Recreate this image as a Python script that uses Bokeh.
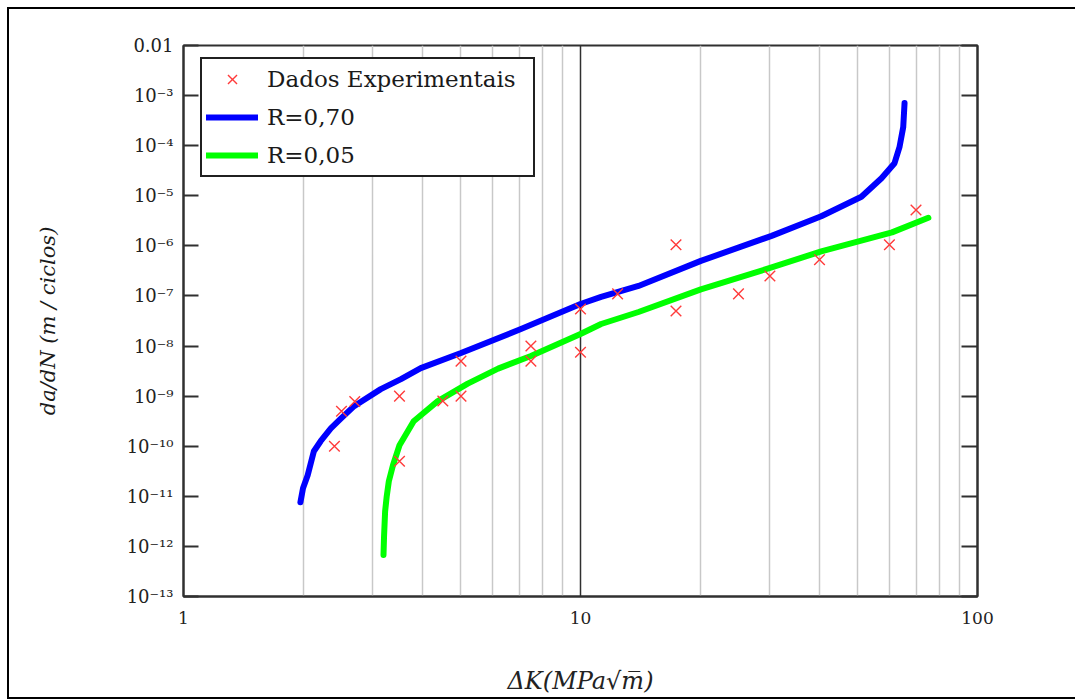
from bokeh.plotting import figure
from bokeh.models import (LogAxis, FixedTicker, CustomJSTickFormatter, Legend,
                          LegendItem, Range1d)
from bokeh.embed import file_html
from bokeh.resources import INLINE

# ---------------- data ----------------
delta_k_exp = [2.4, 2.5, 2.7, 3.5, 3.5, 4.5, 5.0, 5.0, 7.5, 7.5,
               10.0, 10.0, 12.4, 17.4, 17.4, 25.0, 30.0, 40.0, 60.0, 70.0]
dadn_exp = [1.0e-10, 5.0e-10, 7.8e-10, 1.0e-9, 5.0e-11, 8.0e-10, 1.0e-9, 5.0e-9, 1.0e-8, 5.0e-9,
            7.5e-9, 5.5e-8, 1.1e-7, 1.05e-6, 5.0e-8, 1.1e-7, 2.5e-7, 5.3e-7, 1.05e-6, 5.2e-6]

delta_k_r070 = [1.97, 2.0, 2.055, 2.13, 2.215, 2.35, 2.49, 2.69, 2.8, 3.14, 3.53, 3.96,
                5.0, 7.08, 10.0, 11.27, 14.0, 20.1, 30.3, 40.4, 51.0, 57.3, 61.8, 63.6, 65.0, 65.5]
log_dadn_r070 = [-11.12, -10.84, -10.58, -10.1, -9.9, -9.645, -9.45, -9.2, -9.11, -8.86, -8.66, -8.44,
                 -8.14, -7.66, -7.16, -7.02, -6.8, -6.3, -5.8, -5.41, -5.02, -4.65, -4.35, -4.03, -3.63, -3.15]

delta_k_r005 = [3.19, 3.2, 3.22, 3.25, 3.29, 3.37, 3.5, 3.8, 4.37, 5.2, 6.2, 7.5,
                10.0, 11.27, 14.0, 20.1, 30.3, 40.4, 60.9, 75.2]
log_dadn_r005 = [-12.17, -11.8, -11.3, -11.0, -10.7, -10.38, -9.98, -9.5, -9.1, -8.75, -8.45, -8.2,
                 -7.76, -7.56, -7.32, -6.87, -6.43, -6.11, -5.73, -5.44]

dadn_r070 = [10.0 ** v for v in log_dadn_r070]
dadn_r005 = [10.0 ** v for v in log_dadn_r005]

x_ticks = [1, 10, 100]
x_tick_labels = ["1", "10", "100"]
x_minor_ticks = [2, 3, 4, 5, 6, 7, 8, 9, 20, 30, 40, 50, 60, 70, 80, 90]
y_exps = [-13, -12, -11, -10, -9, -8, -7, -6, -5, -4, -3, -2]
y_tick_labels = ["10⁻¹³", "10⁻¹²", "10⁻¹¹", "10⁻¹⁰", "10⁻⁹", "10⁻⁸",
                 "10⁻⁷", "10⁻⁶", "10⁻⁵", "10⁻⁴", "10⁻³", "0.01"]
legend_labels = ["Dados Experimentais", "R=0,70", "R=0,05"]
x_title = "ΔK(MPa√m̅)"
y_title = "da/dN (m / ciclos)"

FONT = "DejaVu Serif"
AX = "#303030"
OFF = 9            # canvas offset inside the page (room for the outer frame line)
W, H = 1066, 688

# ---------------- figure ----------------
p = figure(width=W, height=H, x_axis_type="log", y_axis_type="log",
           x_range=Range1d(1, 100), y_range=Range1d(1e-13, 1e-2),
           output_backend="svg", toolbar_location=None,
           min_border_left=183 - OFF, min_border_right=W - (977 - OFF),
           min_border_top=45 - OFF, min_border_bottom=H - (599 - OFF),
           background_fill_color="white", border_fill_color="white")
p.styles = {"margin-left": f"{OFF}px", "margin-top": f"{OFF}px",
            "min-width": f"{W}px", "box-sizing": "content-box",
            "outline": "2px solid #000000"}
p.outline_line_color = AX
p.outline_line_width = 2

# x axis
xax = p.xaxis[0]
xax.ticker = FixedTicker(ticks=x_ticks, minor_ticks=x_minor_ticks)
xax.formatter = CustomJSTickFormatter(args=dict(xt=x_ticks, xl=x_tick_labels), code="""
const i = xt.findIndex(t => Math.abs(Math.log10(t) - Math.log10(tick)) < 1e-6);
return i >= 0 ? xl[i] : "";
""")
xax.major_tick_in = 0
xax.major_tick_out = 0
xax.minor_tick_in = 0
xax.minor_tick_out = 0
xax.axis_line_color = AX
xax.axis_line_width = 2
xax.major_label_text_font = FONT
xax.major_label_text_font_size = "17px"
xax.major_label_text_color = "#222222"
xax.major_label_standoff = 15
xax.axis_label = x_title
xax.axis_label_text_font = FONT
xax.axis_label_text_font_style = "italic"
xax.axis_label_text_font_size = "24px"
xax.axis_label_text_color = "#222222"
xax.axis_label_standoff = 40

p.xgrid.grid_line_color = AX
p.xgrid.grid_line_width = 1.5
p.xgrid.minor_grid_line_color = "#c8c8c8"
p.xgrid.minor_grid_line_width = 1.5
p.ygrid.visible = False

# y axes
y_ticker = FixedTicker(ticks=[10.0 ** e for e in y_exps], minor_ticks=[])
yax = p.yaxis[0]
yax.ticker = y_ticker
yax.formatter = CustomJSTickFormatter(args=dict(ye=y_exps, yl=y_tick_labels), code="""
const e = Math.round(Math.log10(tick));
const i = ye.indexOf(e);
return i >= 0 ? yl[i] : "";
""")
yax.major_tick_in = 15
yax.major_tick_out = 0
yax.major_tick_line_width = 2
yax.major_tick_line_color = AX
yax.minor_tick_in = 0
yax.minor_tick_out = 0
yax.axis_line_color = AX
yax.axis_line_width = 2
yax.major_label_text_font = FONT
yax.major_label_text_font_size = "18px"
yax.major_label_text_color = "#222222"
yax.major_label_standoff = 10
yax.axis_label = y_title
yax.axis_label_text_font = FONT
yax.axis_label_text_font_style = "italic"
yax.axis_label_text_font_size = "21px"
yax.axis_label_text_color = "#1a1a1a"
yax.axis_label_standoff = 64

rax = LogAxis(ticker=y_ticker,
              formatter=CustomJSTickFormatter(code="return '';"),
              major_tick_in=16, major_tick_out=0, minor_tick_in=0, minor_tick_out=0,
              major_tick_line_width=2, major_tick_line_color=AX,
              axis_line_color=AX, axis_line_width=2,
              major_label_text_font_size="1px")
p.add_layout(rax, "right")

# ---------------- glyphs ----------------
r070 = p.line(delta_k_r070, dadn_r070, line_color="#0000ff", line_width=6,
              line_cap="round", line_join="round")
r005 = p.line(delta_k_r005, dadn_r005, line_color="#00ff00", line_width=6,
              line_cap="round", line_join="round")
rexp = p.scatter(delta_k_exp, dadn_exp, marker="x", size=15,
                 line_color="#ff3b3b", line_width=1.4)

legend = Legend(items=[LegendItem(label=legend_labels[0], renderers=[rexp]),
                       LegendItem(label=legend_labels[1], renderers=[r070]),
                       LegendItem(label=legend_labels[2], renderers=[r005])],
                location=(17, 419), orientation="vertical",
                glyph_width=52, glyph_height=32, label_height=32, label_width=262,
                label_standoff=9, spacing=6, padding=4, margin=0,
                label_text_font=FONT, label_text_font_size="23px", label_text_color="#1a1a1a",
                border_line_color="#202020", border_line_width=2, border_line_alpha=1.0,
                background_fill_color="white", background_fill_alpha=1.0)
p.add_layout(legend)

open("out.html", "w").write(file_html(p, INLINE))
